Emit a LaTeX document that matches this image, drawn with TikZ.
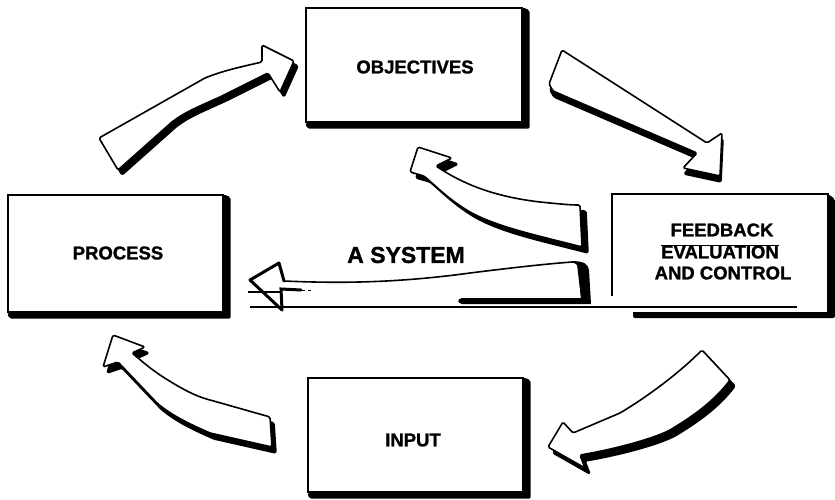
\documentclass[tikz,border=0pt]{standalone}
\usepackage{fontspec}
\setmainfont{Liberation Sans}
\newfontfamily\heavy{Liberation Sans}[FakeBold=1.3]
\usetikzlibrary{backgrounds}
\begin{document}
\begin{tikzpicture}[x=1pt,y=-1pt,
  box/.style={draw=black, line width=1.4pt, fill=white, inner sep=0pt},
  boxshadow/.style={fill=black, rounded corners=2pt},
  lbl/.style={inner sep=0pt, font=\fontsize{18.5}{21}\heavy\bfseries},
  biglbl/.style={inner sep=0pt, font=\fontsize{23}{26}\heavy\bfseries},
  barrow/.style={draw=black, fill=white, line width=1.6pt, line join=round, rounded corners=1.5pt},
  bshadow/.style={draw=black, fill=black, line width=1.6pt, line join=round, rounded corners=1.5pt},
  rule/.style={draw=black, line width=1.4pt}]
\useasboundingbox (0,0) rectangle (835,500);

% ---------- boxes ----------
\node[box, minimum width=216pt, minimum height=114pt] (obj) at (414,65) {};
\node[box, minimum width=215pt, minimum height=117pt] (proc) at (115.5,253.5) {};
\node[box, minimum width=215pt, minimum height=114pt] (inp) at (415.5,435) {};

\begin{scope}[on background layer]
  \fill[white] (0,0) rectangle (835,500);
  \foreach \b in {obj,proc,inp}{
    \fill[boxshadow] (\b.south west) -- ([shift={(2pt,-6pt)}]\b.south west)
      -- ([shift={(7pt,-6pt)}]\b.south east) -- ([shift={(7pt,-3pt)}]\b.north east)
      -- (\b.north east) -- cycle;
  }
\end{scope}

\node[lbl] (objt) at (415,67) {OBJECTIVES};
\node[lbl] (proct) at (118,253) {PROCESS};
\node[lbl] (inpt) at (413,440) {INPUT};

% feedback box (open at its lower left)
\coordinate (fbA) at (612,296);
\coordinate (fbB) at (612,194);
\coordinate (fbC) at (828,194);
\coordinate (fbD) at (828,313);
\coordinate (fbE) at (633,313);
\fill[boxshadow] (fbC) -- (835,199) -- (835,318) -- (633,318) -- (fbE) -- (fbD) -- cycle;
\draw[rule] (fbA) -- (fbB) -- (fbC) -- (fbD) -- (fbE);
\node[lbl] (fb1) at (722,230) {FEEDBACK};
\node[lbl] (fb2) at (720,252) {EVALUATION};
\node[lbl] (fb3) at (723,273) {AND CONTROL};
\draw[line width=1pt] (fb2.north west) -- (fb2.north east);

% base line
\coordinate (base1) at (250,307);
\coordinate (base2) at (797,307);
\draw[rule] (base1) -- (base2);

% ---------- block arrows ----------
% Process -> Objectives
\def\arrowA{(99,138) -- (205,78) .. controls (225,70) and (245,66) .. (262,62) -- (262,45) -- (294,61) -- (280,92) -- (268,73) -- (222,96) .. controls (200,106) and (185,112) .. (172,122) -- (118,170) -- cycle}
\path[bshadow, shift={(4,5)}] \arrowA;
\path[barrow] \arrowA;

% Objectives -> Feedback
\def\arrowB{(562,50) -- (707,143) -- (722,133) -- (720,176) -- (683,168) -- (697,153) -- (553,91) -- (549,84) -- cycle}
\path[bshadow, shift={(1,6)}] \arrowB;
\path[barrow] \arrowB;

% Feedback -> Objectives (curved)
\def\arrowC{(418,147) -- (452,158) -- (436,166) .. controls (460,182) and (490,196) .. (540,202) .. controls (560,204) and (570,205) .. (580,205) -- (582,247) .. controls (540,236) and (500,228) .. (470,212) .. controls (450,200) and (440,190) .. (424,176) -- (410,172) -- cycle}
\path[bshadow, shift={(6,6)}] \arrowC;
\path[barrow] \arrowC;

% Feedback -> Input
\def\arrowE{(702,350) .. controls (680,372) and (650,395) .. (620,413) -- (573,433) -- (563,422) -- (548,447) -- (585,468) -- (580,455) .. controls (610,450) and (650,440) .. (670,430) .. controls (695,415) and (715,400) .. (730,380) -- cycle}
\path[bshadow, shift={(5,6)}] \arrowE;
\path[barrow] \arrowE;

% Input -> Process
\def\arrowF{(113,335) -- (145,347) -- (132,353) .. controls (150,368) .. (160,375) .. controls (180,388) and (195,396) .. (210,400) .. controls (240,408) .. (270,417) -- (272,447) .. controls (240,440) .. (210,433) .. controls (185,422) and (170,414) .. (157,403) -- (118,362) -- (103,367) -- cycle}
\path[bshadow, shift={(4,6)}] \arrowF;
\path[barrow] \arrowF;

% "A SYSTEM" arrow: Feedback -> Process
\node[biglbl] (sys) at (406,255) {A SYSTEM};
\fill[black] (571,261) .. controls (584,261) and (588,264) .. (589,270) -- (591,304) -- (462,304) .. controls (457,303) and (457,299) .. (462,298) -- (581,298) -- (577,264) -- cycle;
\draw[line width=1.6pt, line join=round] (284,281) .. controls (330,283) and (390,284) .. (470,273) .. controls (510,268) and (545,264) .. (572,262) .. controls (576,262) and (578,264) .. (579,268) -- (582,300);
\draw[line width=3pt, line join=round, line cap=round] (282,310) -- (250,280) -- (279,263) -- (284,281);
\draw[line width=3pt, line cap=round] (282,310) -- (281,289) -- (301,290);
\draw[line width=0.6pt, dashed] (302,290) -- (313,290);
\draw[line width=1.2pt] (248,292) -- (281,292);
\end{tikzpicture}
\end{document}
